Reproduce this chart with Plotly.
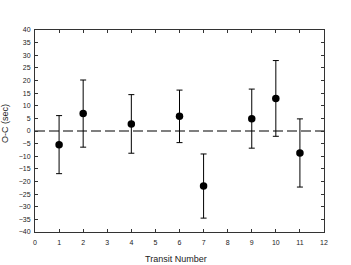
import plotly.graph_objects as go

transit = [1, 2, 4, 6, 7, 9, 10, 11]
oc = [-5.4, 6.9, 2.8, 5.8, -21.8, 4.9, 12.9, -8.7]
err = [11.5, 13.3, 11.6, 10.4, 12.7, 11.7, 15.0, 13.5]
x_title = "Transit Number"
y_title = "O-C (sec)"

FONT = "Liberation Sans, Arial"

fig = go.Figure()
fig.add_trace(go.Scatter(x=[0, 12], y=[0, 0], mode="lines",
                         line=dict(color="black", width=1.2, dash="10px,4px"),
                         hoverinfo="skip", showlegend=False))
fig.add_trace(go.Scatter(
    x=transit, y=oc, mode="markers",
    marker=dict(color="black", size=7.5),
    error_y=dict(type="data", array=err, visible=True, color="black", thickness=1, width=3),
    showlegend=False))

axis_common = dict(showgrid=False, zeroline=False, showline=True, linecolor="#333",
                   linewidth=1, mirror="ticks", ticks="inside", ticklen=3, tickcolor="#333",
                   automargin=False,
                   tickfont=dict(family=FONT, size=7, color="#222"))
fig.update_xaxes(range=[0, 12], dtick=1, tick0=0, ticklabelstandoff=4, **axis_common)
fig.update_yaxes(range=[-40, 40], dtick=5, tick0=0, ticklabelstandoff=2, **axis_common)
fig.add_annotation(text=x_title, xref="paper", yref="paper", x=0.488, y=0,
                   xanchor="center", yanchor="middle", yshift=-27, showarrow=False,
                   font=dict(family=FONT, size=9, color="#222"))
fig.add_annotation(text=y_title, xref="paper", yref="paper", x=0, y=0.535,
                   xanchor="center", yanchor="middle", xshift=-30, textangle=-90, showarrow=False,
                   font=dict(family=FONT, size=9, color="#222"))
fig.update_layout(width=351, height=265, margin=dict(l=35, r=27, t=30, b=33),
                  plot_bgcolor="white", paper_bgcolor="white")
fig.write_html("out.html", config={"displayModeBar": False, "staticPlot": True},
               post_script="document.body.style.margin='0';")
